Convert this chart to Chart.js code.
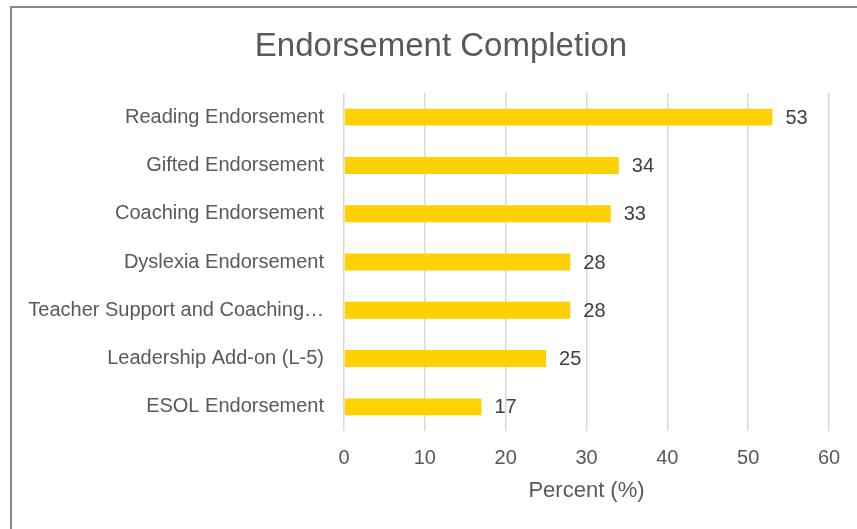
<!DOCTYPE html>
<html>
<head>
<meta charset="utf-8">
<script src="https://cdn.jsdelivr.net/npm/chart.js@4"></script>
<style>
  html, body { margin: 0; padding: 0; background: #fff; overflow: hidden; }
  #wrap { position: relative; width: 857px; height: 529px; }
  #frame { position: absolute; left: 10px; top: 6px; width: 900px; height: 600px; border: 2px solid #898989; box-sizing: border-box; }
  #chart { position: absolute; left: 0; top: 0; }
  #title { position: absolute; left: 241px; width: 400px; top: 25px; text-align: center; font: 33px "Liberation Sans", Arial, sans-serif; line-height: 40px; color: #595959; }
</style>
</head>
<body>
<div id="wrap">
  <div id="frame"></div>
  <canvas id="chart" width="857" height="529"></canvas>
  <div id="title">Endorsement Completion</div>
</div>
<script>
const categories = [
  'Reading Endorsement',
  'Gifted Endorsement',
  'Coaching Endorsement',
  'Dyslexia Endorsement',
  'Teacher Support and Coaching\u2026',
  'Leadership Add-on (L-5)',
  'ESOL Endorsement'
];
const percents = [53, 34, 33, 28, 28, 25, 17];
const xTicks = [0, 10, 20, 30, 40, 50, 60];

const textColor = '#595959';
const fontFamily = '"Liberation Sans", Arial, sans-serif';

const valueLabels = {
  id: 'valueLabels',
  afterDatasetsDraw(chart) {
    const ctx = chart.ctx;
    const meta = chart.getDatasetMeta(0);
    ctx.save();
    ctx.font = '20px ' + fontFamily;
    ctx.fillStyle = '#404040';
    ctx.textAlign = 'left';
    ctx.textBaseline = 'middle';
    meta.data.forEach((bar, i) => {
      ctx.fillText(String(percents[i]), bar.x + 13, bar.y + 1);
    });
    ctx.restore();
  }
};

new Chart(document.getElementById('chart'), {
  type: 'bar',
  data: {
    labels: categories,
    datasets: [{
      data: percents,
      backgroundColor: '#FFD100',
      borderWidth: 0,
      categoryPercentage: 1,
      barPercentage: 0.35
    }]
  },
  options: {
    indexAxis: 'y',
    responsive: false,
    animation: false,
    layout: { padding: { left: 12, right: 28, top: 93, bottom: 0 } },
    plugins: {
      legend: { display: false },
      tooltip: { enabled: false },
      title: { display: false }
    },
    scales: {
      x: {
        min: 0, max: 60,
        afterBuildTicks: s => { s.ticks = xTicks.map(v => ({ value: v })); },
        afterFit: s => { s.height = 98; },
        grid: { color: '#d9d9d9', lineWidth: 1.5, drawTicks: false },
        border: { display: false },
        ticks: { color: textColor, padding: 15, font: { family: fontFamily, size: 20 } },
        title: {
          display: true,
          text: 'Percent (%)',
          color: textColor,
          font: { family: fontFamily, size: 22 },
          padding: { top: 4, bottom: 25 }
        }
      },
      y: {
        afterFit: s => { s.width = 332; },
        grid: { display: false },
        border: { display: false },
        ticks: { color: textColor, padding: 12, font: { family: fontFamily, size: 20 } }
      }
    }
  },
  plugins: [valueLabels]
});
</script>
</body>
</html>
